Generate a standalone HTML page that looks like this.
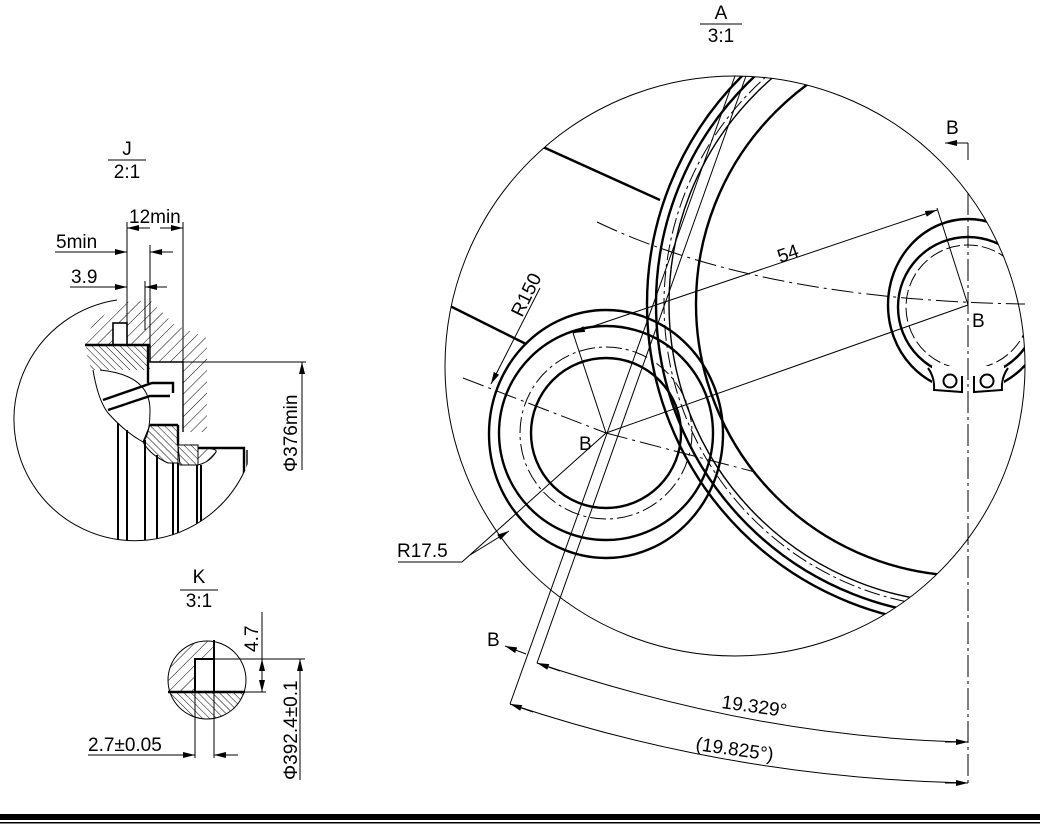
<!DOCTYPE html>
<html><head><meta charset="utf-8"><style>
html,body{margin:0;padding:0;background:#fff}
svg{display:block}
text{font-family:"Liberation Sans",sans-serif;fill:#000}
</style></head><body>
<svg width="1040" height="832" viewBox="0 0 1040 832" xmlns="http://www.w3.org/2000/svg">
<defs>
<marker id="a" viewBox="0 0 12 6" refX="12" refY="3" markerWidth="12" markerHeight="6" markerUnits="userSpaceOnUse" orient="auto"><path d="M0,0L12,3L0,6z" fill="#000"/></marker>
<pattern id="h1" width="8" height="8" patternUnits="userSpaceOnUse" patternTransform="rotate(45)"><line x1="0" y1="0" x2="0" y2="8" stroke="#000" stroke-width="1"/></pattern>
<pattern id="h2" width="5" height="5" patternUnits="userSpaceOnUse" patternTransform="rotate(-45)"><line x1="0" y1="0" x2="0" y2="5" stroke="#000" stroke-width="1"/></pattern>
<clipPath id="cA"><circle cx="735" cy="366" r="290"/></clipPath>
<clipPath id="cJ"><circle cx="135" cy="420" r="121"/></clipPath>
<clipPath id="cK"><circle cx="207" cy="680" r="39"/></clipPath>
</defs>
<g fill="none" stroke="#000" stroke-width="1">

<text x="721" y="19" font-size="19" text-anchor="middle" stroke="none">A</text>
<line x1="700" y1="24" x2="742" y2="24"/>
<text x="721" y="42" font-size="19" text-anchor="middle" stroke="none">3:1</text>
<text x="127" y="155" font-size="19" text-anchor="middle" stroke="none">J</text>
<line x1="108" y1="160" x2="146" y2="160"/>
<text x="127" y="178" font-size="19" text-anchor="middle" stroke="none">2:1</text>
<text x="199" y="583" font-size="19" text-anchor="middle" stroke="none">K</text>
<line x1="180" y1="590" x2="218" y2="590"/>
<text x="199" y="607" font-size="19" text-anchor="middle" stroke="none">3:1</text>

<!-- View A -->
<circle cx="735" cy="366" r="290"/>
<g clip-path="url(#cA)">
  <circle cx="968" cy="304" r="321" stroke-width="2.4"/>
  <circle cx="968" cy="304" r="312" stroke-width="2.4"/>
  <circle cx="968" cy="304" r="304" stroke-dasharray="16 4 3 4"/>
  <circle cx="968" cy="304" r="299" stroke-width="1.4"/>
  <circle cx="968" cy="304" r="272" stroke-width="2.4"/>
  <line x1="543" y1="147" x2="660" y2="200" stroke-width="2.4"/>
  <line x1="446" y1="304" x2="526" y2="344" stroke-width="2.4"/>
  <ellipse cx="968" cy="305" rx="80" ry="86" stroke-width="2.4"/>
  <circle cx="968" cy="307" r="70" stroke-width="2.4"/>
  <circle cx="968" cy="307" r="62" stroke-dasharray="14 4"/>
</g>
<!-- circlip lugs -->
<rect x="932" y="366" width="72" height="30" fill="#fff" stroke="none"/>
<path d="M928,368 Q935,378 934,390 L962,392 L962,376" stroke-width="2"/>
<path d="M1008,368 Q1001,378 1002,390 L974,392 L974,376" stroke-width="2"/>
<circle cx="950" cy="381" r="6.5" stroke-width="2"/>
<circle cx="987" cy="381" r="6.5" stroke-width="2"/>

<ellipse cx="606" cy="434" rx="117" ry="124" stroke-width="2.4"/>
<circle cx="606" cy="433" r="107" stroke-width="2.4"/>
<circle cx="606" cy="433" r="86" stroke-dasharray="16 4 3 4"/>
<circle cx="606" cy="433" r="75" stroke-width="2.4"/>

<line x1="968" y1="193" x2="968" y2="785" stroke-dasharray="22 4 3 4"/>
<line x1="968" y1="143" x2="968" y2="160"/>
<line x1="968" y1="143" x2="945" y2="143" marker-end="url(#a)"/>
<text x="946" y="134" font-size="19" stroke="none">B</text>
<path d="M597,222 Q760,300 1025,304" stroke-dasharray="22 5 3 5"/>
<line x1="463" y1="378" x2="606" y2="433" stroke-dasharray="22 5 3 5"/>
<line x1="606" y1="433" x2="755" y2="472" stroke-dasharray="22 5 3 5"/>
<line x1="606" y1="433" x2="968" y2="305"/>
<line x1="606" y1="433" x2="573" y2="333"/>
<line x1="968" y1="305" x2="937" y2="208"/>
<line x1="590" y1="327" x2="573" y2="333" marker-end="url(#a)"/>
<line x1="573" y1="333" x2="937" y2="210" marker-end="url(#a)"/>
<text x="0" y="0" font-size="19" stroke="none" transform="translate(780,263) rotate(-19)">54</text>
<text x="972" y="327" font-size="19" stroke="none">B</text>
<text x="579" y="450" font-size="19" stroke="none">B</text>

<line x1="540" y1="288" x2="491" y2="384" marker-end="url(#a)"/>
<text x="0" y="0" font-size="19" stroke="none" transform="translate(522,318) rotate(-64)">R150</text>
<polyline points="398,562 462,562 606,433"/>
<line x1="470" y1="555" x2="509" y2="531" marker-end="url(#a)"/>
<text x="397" y="557" font-size="19" stroke="none">R17.5</text>

<line x1="735" y1="76" x2="510" y2="704"/>
<line x1="746" y1="76" x2="537" y2="663"/>
<line x1="526" y1="654" x2="505" y2="646" marker-end="url(#a)"/>
<text x="487" y="646" font-size="19" stroke="none">B</text>

<path d="M537,663 Q760,738 968,742"/>
<line x1="560" y1="671" x2="537" y2="663" marker-end="url(#a)"/>
<line x1="945" y1="742" x2="968" y2="742" marker-end="url(#a)"/>
<path d="M510,704 Q730,778 968,783"/>
<line x1="533" y1="712" x2="510" y2="704" marker-end="url(#a)"/>
<line x1="945" y1="783" x2="968" y2="783" marker-end="url(#a)"/>
<text x="0" y="0" font-size="19" stroke="none" transform="translate(721,708) rotate(8)">19.329°</text>
<text x="0" y="0" font-size="19" stroke="none" transform="translate(695,750) rotate(8)">(19.825°)</text>

<!-- Detail J -->
<path d="M117,300 A121,121 0 1 0 245,470"/>
<g clip-path="url(#cJ)">
  <path d="M86,345 Q85,320 128,302 L150,300 L175,325 L207,338 L207,432 L183,432 L183,362 L150,362 L150,345 Z" fill="url(#h1)" stroke="none"/>
  <rect x="113" y="323" width="14" height="22" fill="#fff" stroke-width="1.6"/>
  <path d="M86,345 L150,345 L150,370 L92,370 Q86,358 86,345Z" fill="url(#h2)" stroke="none"/>
  <line x1="85" y1="345" x2="150" y2="345" stroke-width="2.4"/>
  <path d="M93,370 Q98,400 108,413 Q125,432 143,442"/>
  <path d="M100,370 Q150,375 150,410 Q150,435 143,442"/>
  <path d="M150,425 L178,425 L178,463 L168,463 Q150,455 143,442 Z" fill="url(#h2)"/>
  <path d="M178,445 L198,445 L198,465 L180,465 Z" fill="url(#h2)"/>
  <path d="M198,448 Q218,448 216,452 Q210,462 198,465" fill="url(#h1)"/>
  <line x1="150" y1="425" x2="178" y2="425" stroke-width="2.4"/>
  <line x1="178" y1="425" x2="178" y2="445" stroke-width="2.4"/>
  <path d="M103,400 L152,383 L173,383 L173,393" stroke-width="2.4"/>
  <path d="M108,410 L150,396 L170,396" stroke-width="2.4"/>
  <line x1="148" y1="345" x2="148" y2="383" stroke-width="2.4"/>
  <polyline points="150,345 150,362 183,362 183,432" stroke-width="1.4"/>
  <polyline points="198,448 244,448 244,475" stroke-width="2.4"/>
  <line x1="247" y1="450" x2="247" y2="475" stroke-width="1.4"/>
  <g stroke-width="2">
    <line x1="118" y1="423" x2="118" y2="560"/>
    <line x1="127" y1="430" x2="127" y2="560"/>
    <line x1="145" y1="440" x2="145" y2="560"/>
    <line x1="157" y1="455" x2="157" y2="560"/>
    <line x1="173" y1="463" x2="173" y2="560"/>
    <line x1="178" y1="463" x2="178" y2="560"/>
    <line x1="197" y1="465" x2="197" y2="560"/>
    <line x1="201" y1="465" x2="201" y2="560"/>
  </g>
</g>
<line x1="127" y1="222" x2="127" y2="340"/>
<line x1="183" y1="222" x2="183" y2="362"/>
<line x1="150" y1="245" x2="150" y2="345"/>
<line x1="145" y1="281" x2="145" y2="330"/>
<line x1="150" y1="228" x2="127" y2="228" marker-end="url(#a)"/>
<line x1="160" y1="228" x2="183" y2="228" marker-end="url(#a)"/>
<text x="129" y="223" font-size="19" stroke="none">12min</text>
<line x1="55" y1="252" x2="127" y2="252" marker-end="url(#a)"/>
<line x1="173" y1="252" x2="150" y2="252" marker-end="url(#a)"/>
<text x="56" y="248" font-size="19" stroke="none">5min</text>
<line x1="70" y1="287" x2="127" y2="287" marker-end="url(#a)"/>
<line x1="167" y1="287" x2="145" y2="287" marker-end="url(#a)"/>
<text x="71" y="283" font-size="19" stroke="none">3.9</text>
<line x1="183" y1="362" x2="306" y2="362"/>
<line x1="302" y1="470" x2="302" y2="362" marker-end="url(#a)"/>
<text x="0" y="0" font-size="19" stroke="none" transform="translate(297,472) rotate(-90)">Φ376min</text>

<!-- Detail K -->
<circle cx="207" cy="680" r="39"/>
<g clip-path="url(#cK)">
  <path d="M160,640 L214,640 L214,659 L195,659 L195,692 L160,692 Z" fill="url(#h1)" stroke="none"/>
  <rect x="160" y="692" width="100" height="40" fill="url(#h2)" stroke="none"/>
</g>
<rect x="195" y="659" width="19" height="33" stroke-width="2"/>
<line x1="214" y1="640" x2="214" y2="692" stroke-width="2"/>
<line x1="168" y1="692" x2="245" y2="692" stroke-width="2.4"/>
<line x1="214" y1="659" x2="305" y2="659"/>
<line x1="245" y1="692" x2="266" y2="692"/>
<line x1="262" y1="612" x2="262" y2="692"/>
<line x1="262" y1="675" x2="262" y2="659" marker-end="url(#a)"/>
<line x1="262" y1="676" x2="262" y2="692" marker-end="url(#a)"/>
<text x="0" y="0" font-size="19" stroke="none" transform="translate(258,652) rotate(-90)">4.7</text>
<line x1="300" y1="780" x2="300" y2="659" marker-end="url(#a)"/>
<text x="0" y="0" font-size="19" stroke="none" transform="translate(297,780) rotate(-90)">Φ392.4±0.1</text>
<line x1="195" y1="692" x2="195" y2="758"/>
<line x1="214" y1="692" x2="214" y2="758"/>
<line x1="88" y1="755" x2="195" y2="755" marker-end="url(#a)"/>
<line x1="238" y1="755" x2="214" y2="755" marker-end="url(#a)"/>
<text x="88" y="751" font-size="19" stroke="none">2.7±0.05</text>
</g>

<rect x="0" y="814" width="1040" height="6" fill="#000"/>
<rect x="0" y="822" width="1040" height="1.5" fill="#000"/>
</svg>
</body></html>
